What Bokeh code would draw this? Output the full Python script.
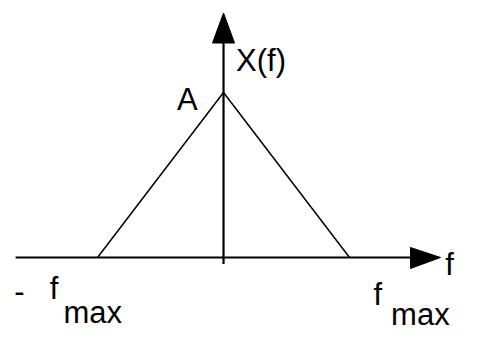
from bokeh.plotting import figure
from bokeh.models import Range1d
from bokeh.core.properties import value
from bokeh.embed import file_html
from bokeh.resources import INLINE

# Triangular spectrum X(f): zero at -fmax and +fmax, peak A at f = 0 (units of fmax, A = 1)
freq = [-1.0, 0.0, 1.0]
amplitude = [0.0, 1.0, 0.0]

# Axis extents (data units)
f_axis = [-1.65, 1.50]
x_axis = [-0.04, 1.30]

# Labels: text, x, y
label_text = ["X(f)", "A", "-", "f", "max", "f", "max", "f"]
label_x = [0.10, -0.37, -1.66, -1.38, -1.27, 1.19, 1.33, 1.76]
label_y = [1.195, 0.955, -0.205, -0.185, -0.335, -0.225, -0.345, -0.045]

W, H = 504, 347
p = figure(width=W, height=H, output_backend="svg", toolbar_location=None,
           x_range=Range1d(-1.770, 2.230), y_range=Range1d(-0.5455, 1.5576),
           min_border=0, outline_line_color=None)
p.axis.visible = False
p.grid.visible = False
p.background_fill_color = "white"
p.border_fill_color = "white"

# Axes
p.line(f_axis, [0, 0], line_color="black", line_width=2.2)
p.line([0, 0], x_axis, line_color="black", line_width=2.2)

# Arrow heads at the ends of the axes, sized in pixels
px_x = 4.0 / W      # data units per pixel along f
px_y = 2.1031 / H   # data units per pixel along X(f)
hx = f_axis[1]
p.patch([hx - 2 * px_x, hx - 2 * px_x, hx + 28 * px_x],
        [10 * px_y, -11 * px_y, 0], fill_color="black", line_color="black")
hy = x_axis[1]
p.patch([-11 * px_x, 11 * px_x, 0],
        [hy, hy, hy + 30 * px_y], fill_color="black", line_color="black")

# Spectrum
p.line(freq, amplitude, line_color="black", line_width=1.5)

p.text(label_x, label_y, text=label_text,
       text_font=value("Liberation Sans Narrow, Arial Narrow, Liberation Sans, sans-serif"),
       text_font_size="31px", text_color="black",
       text_align="left", text_baseline="alphabetic")

open("out.html", "w").write(file_html(p, INLINE))
